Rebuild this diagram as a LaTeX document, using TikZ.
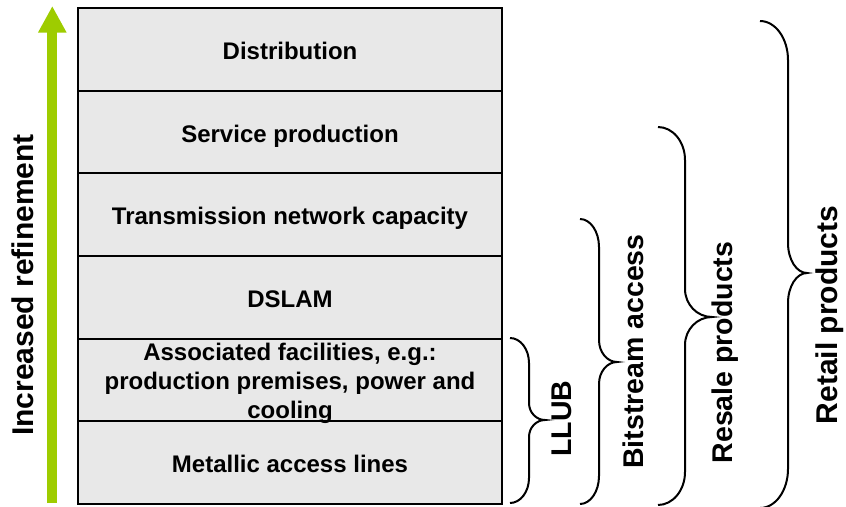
\documentclass[tikz,border=0pt]{standalone}
\usepackage{fontspec}
\setmainfont{Liberation Sans}
\usetikzlibrary{arrows.meta}

\definecolor{layerfill}{RGB}{232,232,232}
\definecolor{refgreen}{RGB}{158,204,0}

% curly brace: start x, spine x, tip x, top y, tip y, bottom y, corner radius, tip radius
\newcommand\stackbrace[8]{%
  \draw[bracepen] (#1,#4)
    .. controls ({#1+0.552*(#2-#1)},#4) and (#2,{#4+0.448*#7}) .. (#2,{#4+#7})
    -- (#2,{#5-#8})
    .. controls (#2,{#5-0.448*#8}) and ({#3-0.552*(#3-#2)},#5) .. (#3,#5)
    .. controls ({#3-0.552*(#3-#2)},#5) and (#2,{#5+0.448*#8}) .. (#2,{#5+#8})
    -- (#2,{#6-#7})
    .. controls (#2,{#6-0.448*#7}) and ({#1+0.552*(#2-#1)},#6) .. (#1,#6);}

\begin{document}
\begin{tikzpicture}[x=1pt,y=-1pt,
  layer/.style={draw=black,line width=2pt,fill=layerfill,rectangle,
    minimum width=424pt,minimum height=82.67pt,inner sep=0pt,
    font=\fontsize{24}{28.8}\selectfont\bfseries,
    text height=20.5pt,text depth=0pt},
  multiline/.style={align=center,inner sep=0pt,
    font=\fontsize{24}{28.8}\selectfont\bfseries},
  sidelabel/.style={rotate=90,anchor=base,inner sep=0pt,
    font=\fontsize{28.5}{30}\selectfont\bfseries},
  bracepen/.style={draw=black,line width=2pt},
  refine/.style={refgreen,line width=10pt,
    -{Triangle[width=26.7pt,length=26.7pt]}}]

\useasboundingbox (0,0) rectangle (846,506);

% layered stack, top to bottom
\node[layer] (dist)  at (290,49.33)  {Distribution};
\node[layer] (serv)  at (290,132.00) {Service production};
\node[layer] (trans) at (290,214.67) {Transmission network capacity};
\node[layer] (dslam) at (290,297.33) {DSLAM};
\node[layer,text height=0pt] (assoc) at (290,380.00) {};
\node[layer] (metal) at (290,462.67) {Metallic access lines};
\node[multiline] (assoctext) at (290,383.4)
  {Associated facilities, e.g.:\\production premises, power and\\cooling};

% refinement arrow
\coordinate (arrowfoot) at (52.3,503);
\coordinate (arrowtip)  at (52.3,6);
\draw[refine] (arrowfoot) -- (arrowtip);
\node[sidelabel,font=\fontsize{30}{32}\selectfont\bfseries] (refinelbl) at (33,285) {Increased refinement};

% product braces
\stackbrace{510}{529}{545}{338}{420}{503}{25}{17}
\stackbrace{580}{599}{617}{219}{362}{504}{28}{22}
\stackbrace{658}{685}{712}{127}{317}{505}{33}{28}
\stackbrace{760}{788}{807}{21}{273}{508}{39}{30}

\node[sidelabel] (llub)   at (571,418.5) {LLUB};
\node[sidelabel] (bitstr) at (643,351.5) {Bitstream access};
\node[sidelabel] (resale) at (732,352.5) {Resale products};
\node[sidelabel,font=\fontsize{30}{32}\selectfont\bfseries] (retail) at (837,315) {Retail products};
\end{tikzpicture}
\end{document}
